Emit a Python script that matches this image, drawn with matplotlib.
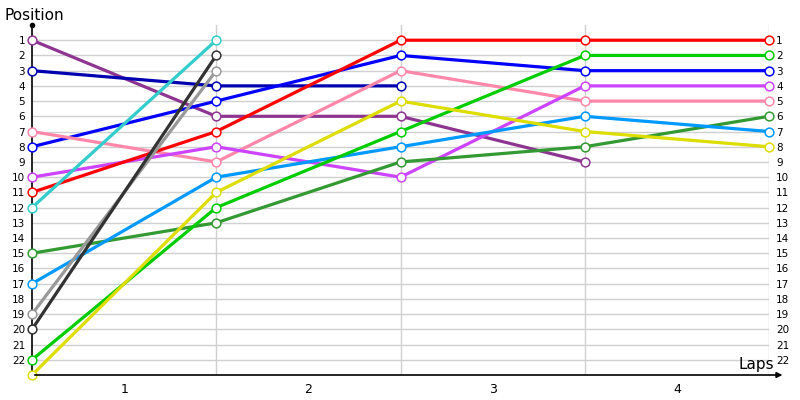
import numpy as np
from matplotlib import pyplot as plt

# positions after each lap (lap 0 = grid), shorter lists = retired
laps = [0, 1, 2, 3, 4]
lap_labels = ['1', '2', '3', '4']
positions = list(range(1, 23))

series = {
    'purple':     [1, 6, 6, 9],
    'navy':       [3, 4, 4],
    'blue':       [8, 5, 2, 3, 3],
    'pink':       [7, 9, 3, 5, 5],
    'violet':     [10, 8, 10, 4, 4],
    'red':        [11, 7, 1, 1, 1],
    'cyan':       [12, 1],
    'darkgreen':  [15, 13, 9, 8, 6],
    'lightblue':  [17, 10, 8, 6, 7],
    'gray':       [19, 3],
    'darkgray':   [20, 2],
    'green':      [22, 12, 7, 2, 2],
    'yellow':     [23, 11, 5, 7, 8],
}
colors = {
    'purple': '#8E3592', 'navy': '#0000B0', 'blue': '#0000FF', 'pink': '#FF88AA',
    'violet': '#CC44FF', 'red': '#FF0000', 'cyan': '#33CCCC', 'darkgreen': '#339933',
    'lightblue': '#0099FF', 'gray': '#999999', 'darkgray': '#333333',
    'green': '#00CC00', 'yellow': '#DDDD00',
}

fig = plt.figure(figsize=(8, 4), dpi=100)
ax = fig.add_axes([0.04, 0.0625, 0.92125, 0.875])

for p in positions:
    ax.axhline(p, color='#D0D0D0', lw=1, zorder=0)
for x in laps[1:]:
    ax.axvline(x, color='#D0D0D0', lw=1, zorder=0)

for name, vals in series.items():
    ax.plot(laps[:len(vals)], vals, color=colors[name], lw=2.3, marker='o', ms=6.3,
            mfc='white', mec=colors[name], mew=1.1, zorder=3, clip_on=False)

ax.set_xlim(0, 4)
ax.set_ylim(23, 0)
for s in ['top', 'right', 'bottom']:
    ax.spines[s].set_visible(False)
ax.spines['left'].set_color('black')
ax.spines['left'].set_linewidth(1.2)

ax.set_yticks(positions)
ax.set_yticklabels([str(p) for p in positions], fontsize=7.5)
ax.tick_params(axis='y', length=0, pad=5, labelright=True)
ax.set_xticks([0.5, 1.5, 2.5, 3.5])
ax.set_xticklabels(lap_labels, fontsize=9)
ax.tick_params(axis='x', length=0, pad=6)

# axes arrows
ax.annotate('', xy=(1.022, 0), xycoords='axes fraction', xytext=(0, 0),
            arrowprops=dict(arrowstyle='-|>', color='black', lw=1.2, mutation_scale=8))
ax.plot([0], [1], 'ko', ms=3, transform=ax.transAxes, clip_on=False)

fig.text(0.006, 0.96, 'Position', fontsize=11, ha='left', va='center')
fig.text(0.968, 0.088, 'Laps', fontsize=11, ha='right', va='center')

fig.savefig('out.png', dpi=100)
